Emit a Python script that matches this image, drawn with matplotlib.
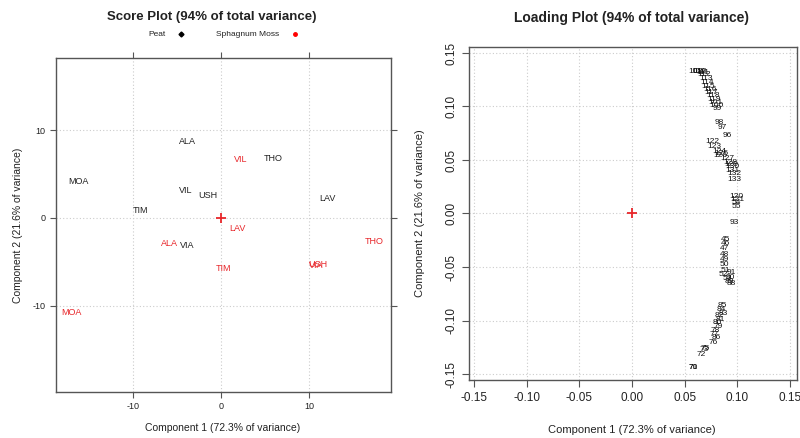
import matplotlib.pyplot as plt

plt.rcParams["font.family"] = ["Liberation Sans", "DejaVu Sans"]
plt.rcParams["axes.unicode_minus"] = False

W, H = 800, 438

# Score plot (sample scores on PC1 / PC2)
peat_sites = ["ALA", "THO", "MOA", "VIL", "USH", "LAV", "TIM", "VIA"]
peat_pc1 = [-3.9, 5.9, -16.3, -4.1, -1.5, 12.1, -9.2, -3.9]
peat_pc2 = [8.7, 6.8, 4.2, 3.1, 2.5, 2.2, 0.9, -3.1]

moss_sites = ["VIL", "LAV", "ALA", "THO", "TIM", "VIA", "USH", "MOA"]
moss_pc1 = [2.2, 1.8, -5.9, 17.4, 0.2, 10.8, 10.95, -17.0]
moss_pc2 = [6.6, -1.2, -2.9, -2.7, -5.7, -5.45, -5.35, -10.8]

# Loading plot (variable loadings)
loading_ids = [108, 109, 110, 111, 112, 113, 114, 115, 116, 117, 118, 119, 101, 100, 99,
               98, 97, 96, 122, 123, 124, 125, 126, 127, 128, 129, 130, 131, 132, 133,
               120, 121, 54, 55, 93,
               45, 46, 47, 48, 49, 50, 51, 52, 53, 91, 90, 89, 88,
               85, 84, 83, 82, 81, 80, 79, 78, 77, 86, 76, 75, 73, 72, 71, 70]
loading_pc1 = [0.060, 0.063, 0.065, 0.067, 0.068, 0.070, 0.071, 0.072, 0.074, 0.075, 0.077, 0.078, 0.079, 0.080, 0.081,
               0.083, 0.086, 0.090, 0.076, 0.078, 0.083, 0.085, 0.084, 0.090, 0.093, 0.094, 0.095, 0.095, 0.097, 0.097,
               0.099, 0.100, 0.099, 0.099, 0.097,
               0.089, 0.089, 0.088, 0.088, 0.088, 0.088, 0.089, 0.087, 0.090, 0.094, 0.093, 0.092, 0.094,
               0.086, 0.085, 0.087, 0.083, 0.084, 0.081, 0.082, 0.079, 0.078, 0.080, 0.077, 0.069, 0.068, 0.066, 0.058, 0.058]
loading_pc2 = [0.133, 0.133, 0.133, 0.132, 0.130, 0.126, 0.122, 0.119, 0.116, 0.113, 0.110, 0.107, 0.104, 0.101, 0.098,
               0.085, 0.080, 0.073, 0.067, 0.063, 0.058, 0.056, 0.054, 0.051, 0.048, 0.046, 0.044, 0.040, 0.037, 0.032,
               0.016, 0.013, 0.010, 0.007, -0.008,
               -0.024, -0.028, -0.033, -0.038, -0.043, -0.048, -0.053, -0.057, -0.061, -0.055, -0.060, -0.064, -0.065,
               -0.086, -0.090, -0.093, -0.095, -0.099, -0.102, -0.106, -0.109, -0.113, -0.116, -0.121, -0.126, -0.127, -0.132, -0.144, -0.144]

RED = "#e8262a"
INK = "#222222"
FRAME = "#555555"


def px_axes(x0, y0, x1, y1):
    # pixel box (top-left origin) -> figure fraction
    return [x0 / W, 1 - y1 / H, (x1 - x0) / W, (y1 - y0) / H]


def fig_text(x, y, s, **kw):
    fig.text(x / W, 1 - y / H, s, ha="center", va="center", **kw)


def style(ax):
    for sp in ax.spines.values():
        sp.set_color(FRAME)
        sp.set_linewidth(1.0)
    ax.grid(True, linestyle=(0, (1, 2)), color="#cccccc", linewidth=0.8)
    ax.set_axisbelow(True)


fig = plt.figure(figsize=(W / 100, H / 100), dpi=100)

# ---- Score plot ----
ax1 = fig.add_axes(px_axes(56, 58, 391, 392))
style(ax1)
ax1.set_xlim(-18.8, 19.3)
ax1.set_ylim(-19.8, 18.2)
ax1.set_xticks([-10, 0, 10])
ax1.set_yticks([-10, 0, 10])
ax1.tick_params(axis="both", direction="out", length=4, width=0.8, color=FRAME,
                labelsize=6.5, labelcolor=INK, top=True, right=True)
for s, x, y in zip(peat_sites, peat_pc1, peat_pc2):
    ax1.text(x, y, s, color=INK, fontsize=6.5, ha="center", va="center")
for s, x, y in zip(moss_sites, moss_pc1, moss_pc2):
    ax1.text(x, y, s, color=RED, fontsize=6.5, ha="center", va="center")
ax1.plot([0], [0], marker="+", color=RED, markersize=7, mew=1.3)

fig_text(212, 17, "Score Plot (94% of total variance)", fontsize=9.5, fontweight="bold", color=INK)
fig_text(157, 34, "Peat", fontsize=6, color=INK)
fig_text(248, 34, "Sphagnum Moss", fontsize=6, color=INK)
fig.lines.append(plt.Line2D([181 / W], [1 - 34 / H], marker="D", markersize=2.5, color="black",
                            transform=fig.transFigure))
fig.lines.append(plt.Line2D([295 / W], [1 - 34 / H], marker="o", markersize=2.5, color="red",
                            transform=fig.transFigure))
fig_text(223, 428, "Component 1 (72.3% of variance)", fontsize=7.5, color=INK)
fig_text(18, 225, "Component 2 (21.6% of variance)", fontsize=7.5, color=INK, rotation=90)

# ---- Loading plot ----
ax2 = fig.add_axes(px_axes(469, 47, 797, 380))
style(ax2)
ax2.set_xlim(-0.1547, 0.1565)
ax2.set_ylim(-0.1556, 0.1556)
ticks = [-0.15, -0.10, -0.05, 0.00, 0.05, 0.10, 0.15]
ax2.set_xticks(ticks)
ax2.set_yticks(ticks)
ax2.set_xticklabels([f"{t:.2f}" for t in ticks])
ax2.set_yticklabels([f"{t:.2f}" for t in ticks], rotation=90, va="center")
ax2.tick_params(axis="both", direction="out", length=5, width=0.8, color=FRAME,
                labelsize=8.5, labelcolor=INK)
for s, x, y in zip(loading_ids, loading_pc1, loading_pc2):
    ax2.text(x, y, str(s), color="#111111", fontsize=6, ha="center", va="center")
ax2.plot([0], [0], marker="+", color=RED, markersize=7, mew=1.3)

fig_text(632, 18, "Loading Plot (94% of total variance)", fontsize=10, fontweight="bold", color=INK)
fig_text(632, 430, "Component 1 (72.3% of variance)", fontsize=8, color=INK)
fig_text(420, 213, "Component 2 (21.6% of variance)", fontsize=8, color=INK, rotation=90)

fig.savefig("out.png", dpi=100)
